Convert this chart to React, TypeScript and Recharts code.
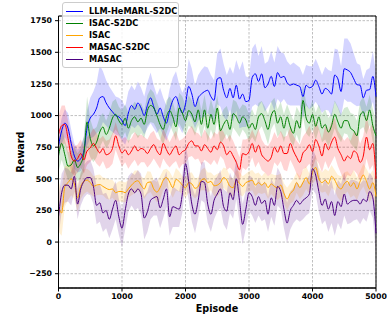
import React from 'react';
import {
  ComposedChart, Line, Area, XAxis, YAxis, CartesianGrid, Legend, ReferenceArea, Label,
} from 'recharts';

const EPISODES = [
  0, 50, 100, 150, 200, 250, 300, 350, 400, 450, 500, 550, 600, 650, 700, 750, 800, 850, 900, 950,
  1000, 1050, 1100, 1150, 1200, 1250, 1300, 1350, 1400, 1450, 1500, 1550, 1600, 1650, 1700, 1750, 1800, 1850, 1900, 1950,
  2000, 2050, 2100, 2150, 2200, 2250, 2300, 2350, 2400, 2450, 2500, 2550, 2600, 2650, 2700, 2750, 2800, 2850, 2900, 2950,
  3000, 3050, 3100, 3150, 3200, 3250, 3300, 3350, 3400, 3450, 3500, 3550, 3600, 3650, 3700, 3750, 3800, 3850, 3900, 3950,
  4000, 4050, 4100, 4150, 4200, 4250, 4300, 4350, 4400, 4450, 4500, 4550, 4600, 4650, 4700, 4750, 4800, 4850, 4900, 4950,
  5000,
];

const HEMARL = [
  760, 880, 940, 900, 780, 680, 640, 660, 720, 900,
  980, 1010, 1060, 1140, 1150, 1100, 1060, 1030, 1000, 990,
  960, 920, 1020, 1080, 1050, 1100, 1060, 1000, 1080, 1140,
  1070, 1010, 1060, 990, 940, 1040, 1120, 1150, 1080, 1020,
  1090, 1230, 1170, 1070, 1140, 1170, 1190, 1200, 1150, 1120,
  1290, 1300, 1200, 1140, 1215, 1140, 1240, 1130, 1170, 1110,
  1120, 1300, 1330, 1270, 1330, 1220, 1250, 1310, 1230, 1340,
  1300, 1310, 1260, 1240, 1250, 1240, 1230, 1150, 1240, 1220,
  1230, 1280, 1230, 1170, 1215, 1200, 1170, 1320, 1290, 1190,
  1370, 1360, 1340, 1290, 1244, 1240, 1140, 1200, 1205, 1310,
  1150,
];
const HEMARL_STD = [
  90, 100, 110, 120, 110, 100, 90, 100, 110,
  140, 160, 180, 200, 260, 200, 180, 170, 160, 150, 150, 160,
  150, 170, 160, 150, 170, 160, 150, 180, 200, 170, 150, 160, 150, 140, 170, 180, 200, 170, 160, 150,
  220, 200, 170, 180, 190, 200, 180, 170, 160, 200, 230, 210, 180, 170, 190, 200, 230, 260, 200, 180,
  230, 240, 200, 220, 190, 180, 200, 190, 210, 200, 180, 170, 160, 170, 160, 150, 170, 160, 170, 160,
  170, 160, 150, 170, 160, 180, 210, 230, 200, 240, 250, 230, 200, 170, 160, 150, 160, 170, 200, 180,
];

const ISAC_S2DC = [
  680, 780, 690, 600, 610, 650, 590, 620, 700, 950,
  820, 760, 790, 870, 910, 850, 900, 980, 1010, 960,
  930, 980, 900, 960, 990, 950, 980, 930, 1040, 1080,
  1060, 1000, 930, 890, 990, 1040, 990, 910, 1060, 1020,
  960, 1040, 1010, 950, 1045, 930, 1045, 900, 1010, 930,
  1060, 880, 930, 965, 890, 1015, 990, 940, 990, 965,
  900, 940, 890, 990, 1015, 960, 890, 1000, 1040, 940,
  990, 900, 990, 910, 860, 960, 900, 1120, 980, 940,
  1010, 915, 990, 900, 930, 870, 920, 1010, 950, 900,
  960, 960, 900, 880, 840, 1000, 1030, 960, 1045, 920,
  840,
];
const ISAC_S2DC_STD = [
  120, 130, 120, 110, 110, 100, 110, 120, 140,
  200, 150, 130, 120, 120, 110, 110, 120, 130, 120, 110, 110,
  110, 120, 110, 120, 130, 120, 110, 120, 130, 120, 110, 110, 120, 130, 110, 120, 110, 120, 130, 120,
  120, 110, 110, 120, 110, 120, 110, 120, 110, 100, 110, 120, 110, 100, 110, 120, 110, 100, 110, 110,
  110, 100, 110, 100, 110, 120, 110, 100, 110, 120, 110, 100, 110, 100, 110, 120, 130, 120, 110, 110,
  110, 100, 110, 120, 110, 100, 110, 120, 110, 100, 110, 120, 130, 120, 110, 120, 110, 120, 130, 120,
];

const ISAC = [
  280, 230, 440, 470, 500, 460, 350, 440, 480, 490,
  470, 440, 450, 455, 440, 425, 415, 420, 390, 400,
  400, 390, 420, 450, 475, 485, 450, 420, 470, 475,
  420, 395, 430, 490, 510, 475, 430, 495, 480, 450,
  430, 470, 460, 425, 440, 490, 500, 470, 480, 445,
  450, 470, 510, 490, 440, 430, 490, 465, 440, 470,
  480, 490, 450, 470, 450, 470, 430, 460, 440, 430,
  450, 385, 340, 385, 410, 470, 430, 470, 510, 460,
  550, 590, 500, 470, 490, 460, 520, 490, 440, 420,
  460, 480, 440, 470, 420, 480, 530, 480, 420, 470,
  360,
];
const ISAC_STD = [
  200, 180, 160, 140, 130, 120, 110, 100, 100,
  90, 90, 80, 80, 80, 70, 80, 80, 70, 70, 80, 80,
  80, 70, 80, 90, 80, 70, 80, 90, 80, 70, 80, 90, 80, 70, 80, 80, 90, 80, 70, 80,
  80, 90, 80, 70, 80, 90, 80, 70, 80, 90, 80, 80, 90, 80, 70, 80, 90, 80, 70, 80,
  80, 90, 80, 70, 80, 90, 80, 90, 100, 90, 80, 90, 80, 90, 80, 90, 100, 90, 80, 90,
  100, 90, 80, 90, 100, 90, 80, 90, 100, 90, 80, 90, 100, 90, 80, 90, 100, 110, 100, 110,
];

const MASAC_S2DC = [
  850, 920, 930, 820, 680, 640, 660, 700, 650, 720,
  745, 780, 740, 705, 740, 690, 700, 740, 840, 760,
  705, 730, 690, 720, 760, 720, 740, 730, 700, 740,
  770, 720, 690, 780, 730, 690, 730, 760, 690, 715,
  730, 780, 800, 760, 760, 720, 770, 740, 710, 760,
  730, 790, 760, 690, 720, 680, 630, 570, 700, 690,
  715, 780, 710, 765, 690, 660, 640, 670, 750, 710,
  760, 700, 700, 780, 720, 670, 630, 705, 730, 770,
  715, 810, 760, 680, 780, 730, 790, 830, 740, 690,
  640, 680, 660, 720, 700, 630, 680, 830, 730, 780,
  500,
];
const MASAC_S2DC_STD = [
  150, 160, 150, 140, 130, 120, 110, 110, 110,
  110, 110, 120, 120, 110, 100, 110, 110, 120, 110, 100, 110,
  100, 110, 100, 110, 120, 110, 100, 110, 120, 110, 100, 110, 120, 110, 100, 110, 120, 110, 100, 110,
  110, 120, 110, 100, 110, 120, 110, 100, 110, 120, 110, 110, 120, 130, 120, 110, 100, 110, 120, 110,
  110, 120, 130, 120, 110, 120, 130, 120, 110, 120, 130, 140, 130, 120, 130, 140, 130, 140, 150, 140,
  150, 140, 130, 140, 150, 160, 150, 140, 150, 160, 150, 140, 150, 160, 150, 160, 170, 160, 170, 160,
];

const MASAC = [
  200, 390, 450, 450, 420, 520, 300, 420, 480, 510,
  510, 440, 290, 310, 230, 250, 180, 260, 330, 200,
  110, 250, 380, 420, 390, 420, 380, 190, 240, 330,
  350, 360, 270, 340, 420, 200, 280, 270, 260, 380,
  620, 480, 300, 220, 330, 480, 470, 300, 220, 330,
  380, 420, 280, 245, 390, 335, 500, 330, 140, 260,
  390, 360, 290, 360, 305, 330, 220, 350, 290, 440,
  400, 260, 150, 250, 290, 330, 300, 330, 350, 380,
  580, 530, 400, 290, 340, 260, 320, 210, 320, 280,
  380, 300, 320, 330, 330, 300, 340, 320, 400, 350,
  70,
];
const MASAC_STD = [
  160, 150, 140, 130, 130, 120, 120, 130, 130,
  130, 140, 140, 150, 150, 150, 140, 150, 160, 150, 140, 150,
  150, 140, 130, 140, 150, 160, 170, 160, 150, 140, 150, 160, 150, 140, 150, 160, 150, 140, 150, 160,
  150, 140, 150, 140, 150, 160, 150, 140, 150, 140, 150, 140, 150, 160, 150, 160, 170, 160, 150, 140,
  150, 140, 150, 140, 150, 140, 150, 160, 150, 140, 150, 160, 150, 140, 150, 140, 150, 140, 150, 160,
  150, 160, 150, 170, 180, 170, 160, 170, 180, 170, 160, 170, 160, 150, 160, 150, 160, 150, 160, 170,
];

const X_TICKS = [0, 1000, 2000, 3000, 4000, 5000];
const Y_TICKS = [-250, 0, 250, 500, 750, 1000, 1250, 1500, 1750];

const SERIES = [
  { key: 'hemarl', name: 'LLM-HeMARL-S2DC', color: '#0000ff', mean: HEMARL, std: HEMARL_STD },
  { key: 'isacS2dc', name: 'ISAC-S2DC', color: '#008000', mean: ISAC_S2DC, std: ISAC_S2DC_STD },
  { key: 'isac', name: 'ISAC', color: '#ffa500', mean: ISAC, std: ISAC_STD },
  { key: 'masacS2dc', name: 'MASAC-S2DC', color: '#ff0000', mean: MASAC_S2DC, std: MASAC_S2DC_STD },
  { key: 'masac', name: 'MASAC', color: '#4b0082', mean: MASAC, std: MASAC_STD },
];

const FONT = '"DejaVu Sans", sans-serif';
const Y_MIN = -363;
const Y_MAX = 1787;

const data = EPISODES.map((ep, i) => {
  const row: any = { episode: ep };
  SERIES.forEach(s => {
    row[s.key] = s.mean[i];
    row[s.key + 'Band'] = [s.mean[i] - s.std[i], s.mean[i] + s.std[i]];
  });
  return row;
});

const fmt = (v: number) => (v < 0 ? `\u2212${-v}` : `${v}`);

const tickStyle = { fontSize: 7.8, fontWeight: 'bold', fill: '#000', fontFamily: FONT };

const renderLegend = () => (
  <div
    style={{
      width: 115,
      padding: '2px 0',
      border: '1px solid #cccccc',
      borderRadius: 3,
      background: 'rgba(255,255,255,0.8)',
      fontFamily: FONT,
      fontWeight: 'bold',
      fontSize: 8.2,
      color: '#000',
    }}
  >
    {SERIES.map(s => (
      <div key={s.key} style={{ height: 12, display: 'flex', alignItems: 'center' }}>
        <span style={{ marginLeft: 3, width: 17, borderTop: `1.2px solid ${s.color}` }} />
        <span style={{ marginLeft: 6, whiteSpace: 'nowrap' }}>{s.name}</span>
      </div>
    ))}
  </div>
);

export default function App() {
  return (
    <div style={{ position: 'absolute', left: 0, top: 0, width: 387, height: 314, background: '#fff' }}>
      <ComposedChart width={387} height={314} data={data} margin={{ top: 16, right: 11, bottom: 0, left: 0 }}>
        <CartesianGrid stroke="#b0b0b0" strokeDasharray="2.5 1.5" strokeWidth={0.8} />
        <XAxis
          dataKey="episode"
          type="number"
          domain={[0, 5000]}
          ticks={X_TICKS}
          height={26}
          tick={tickStyle}
          tickSize={3.5}
          tickLine={{ stroke: '#000' }}
          axisLine={{ stroke: '#000' }}
        >
          <Label
            content={() => (
              <text x={217} y={308} textAnchor="middle" dominantBaseline="central"
                style={{ fontFamily: FONT, fontWeight: 'bold', fontSize: 9.6, fill: '#000' }}>
                Episode
              </text>
            )}
          />
        </XAxis>
        <YAxis
          type="number"
          domain={[Y_MIN, Y_MAX]}
          allowDataOverflow
          ticks={Y_TICKS}
          width={58.5}
          tick={tickStyle}
          tickFormatter={fmt}
          tickSize={3.5}
          tickMargin={3}
          tickLine={{ stroke: '#000' }}
          axisLine={{ stroke: '#000' }}
        >
          <Label
            content={() => (
              <text x={20} y={152} transform="rotate(-90 20 152)" textAnchor="middle" dominantBaseline="central"
                style={{ fontFamily: FONT, fontWeight: 'bold', fontSize: 9.6, fill: '#000' }}>
                Reward
              </text>
            )}
          />
        </YAxis>
        {SERIES.map(s => (
          <Area
            key={s.key + 'Band'}
            dataKey={s.key + 'Band'}
            type="linear"
            stroke="none"
            fill={s.color}
            fillOpacity={0.17}
            isAnimationActive={false}
            legendType="none"
            activeDot={false}
          />
        ))}
        {SERIES.map(s => (
          <Line
            key={s.key}
            dataKey={s.key}
            name={s.name}
            type="monotone"
            stroke={s.color}
            strokeWidth={1}
            dot={false}
            activeDot={false}
            isAnimationActive={false}
          />
        ))}
        <ReferenceArea x1={0} x2={5000} y1={Y_MIN} y2={Y_MAX} fill="none" stroke="#000" strokeWidth={1} ifOverflow="extendDomain" />
        <Legend
          layout="vertical"
          align="center"
          verticalAlign="middle"
          content={renderLegend}
          wrapperStyle={{ left: 62, top: 2, width: 'auto', height: 'auto' }}
        />
      </ComposedChart>
    </div>
  );
}
